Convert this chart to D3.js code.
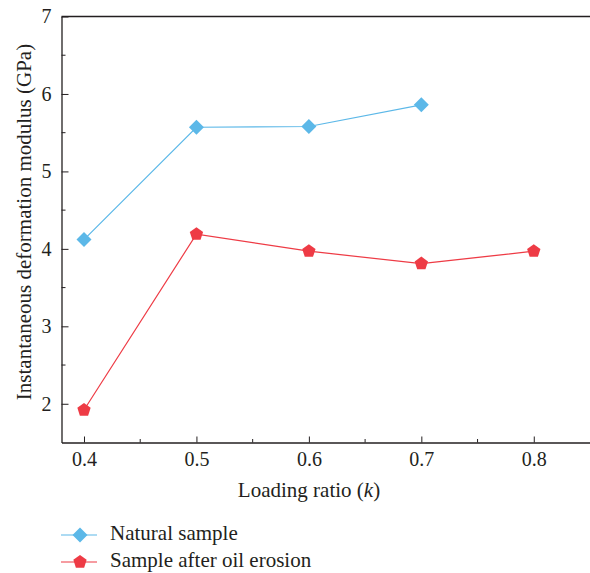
<!DOCTYPE html>
<html>
<head>
<meta charset="utf-8">
<script src="https://cdn.jsdelivr.net/npm/d3@7"></script>
<style>
  body { margin: 0; background: #fff; }
</style>
</head>
<body>
<div id="chart"></div>
<script>
// loading ratios and modulus values
const loadingRatio = [0.4, 0.5, 0.6, 0.7, 0.8];
const naturalSample = [4.12, 5.57, 5.58, 5.86];
const oilErosion = [1.92, 4.19, 3.97, 3.81, 3.97];
const xTicks = [0.4, 0.5, 0.6, 0.7, 0.8];
const xMinor = [0.45, 0.55, 0.65, 0.75];
const yTicks = [2, 3, 4, 5, 6, 7];
const yMinor = [2.5, 3.5, 4.5, 5.5, 6.5];

const W = 590, H = 573;
const m = {left: 61.5, top: 16.5, right: 0, bottom: 130.5};
const FONT = 'Liberation Serif';
const INK = '#231f20';
const FS = 20, FS_TITLE = 21;

const svg = d3.select('#chart').append('svg')
    .attr('width', W).attr('height', H)
    .attr('font-family', FONT);

const x = d3.scaleLinear().domain([0.38, 0.85]).range([m.left, W - m.right]);
const y = d3.scaleLinear().domain([1.5, 7]).range([H - m.bottom, m.top]);

// axes
const xAxis = svg.append('g').attr('transform', 'translate(0,' + y(1.5) + ')');
xAxis.call(d3.axisBottom(x).tickValues(xTicks).tickSizeInner(-6).tickSizeOuter(0)
    .tickFormat(d3.format('.1f')).tickPadding(9));
xAxis.selectAll('.minor').data(xMinor).enter().append('line')
    .attr('class', 'minor')
    .attr('x1', d => x(d)).attr('x2', d => x(d))
    .attr('y1', 0).attr('y2', -3.5)
    .attr('stroke', INK);

const yAxis = svg.append('g').attr('transform', 'translate(' + m.left + ',0)');
yAxis.call(d3.axisLeft(y).tickValues(yTicks).tickSizeInner(-7).tickSizeOuter(0)
    .tickFormat(d3.format('d')).tickPadding(10));
yAxis.selectAll('.minor').data(yMinor).enter().append('line')
    .attr('class', 'minor')
    .attr('y1', d => y(d)).attr('y2', d => y(d))
    .attr('x1', 0).attr('x2', 4)
    .attr('stroke', INK);

[xAxis, yAxis].forEach(a => {
    a.attr('font-family', FONT).attr('font-size', FS);
    a.select('.domain').attr('stroke', INK).attr('stroke-width', 1.3);
    a.selectAll('.tick line').attr('stroke', INK);
    a.selectAll('.tick text').attr('fill', INK);
});

// top border
svg.append('line')
    .attr('x1', m.left).attr('x2', W).attr('y1', m.top).attr('y2', m.top)
    .attr('stroke', INK).attr('stroke-width', 1.3);

// titles
svg.append('text')
    .attr('x', 309).attr('y', 497)
    .attr('text-anchor', 'middle').attr('font-size', FS_TITLE).attr('fill', INK)
    .html('Loading ratio (<tspan font-style="italic">k</tspan>)');

svg.append('text')
    .attr('transform', 'translate(31,222) rotate(-90)')
    .attr('text-anchor', 'middle').attr('font-size', FS_TITLE).attr('fill', INK)
    .text('Instantaneous deformation modulus (GPa)');

// series
const series = [
    {name: 'Natural sample', values: naturalSample, color: '#5cb8e8'},
    {name: 'Sample after oil erosion', values: oilErosion, color: '#ee3b45'}
];

function pentagon(r) {
    const pts = [];
    for (let i = 0; i < 5; i++) {
        const a = -Math.PI / 2 + i * 2 * Math.PI / 5;
        pts.push([r * Math.cos(a), r * Math.sin(a)]);
    }
    return 'M' + pts.map(p => p.join(',')).join('L') + 'Z';
}
function diamond(r) {
    return 'M0,' + (-r) + 'L' + r + ',0L0,' + r + 'L' + (-r) + ',0Z';
}
const marker = k => k === 0 ? diamond(7.5) : pentagon(7);

const line = d3.line().x(d => x(d[0])).y(d => y(d[1]));

series.forEach((s, k) => {
    const pts = s.values.map((v, i) => [loadingRatio[i], v]);
    svg.append('path').datum(pts)
        .attr('d', line).attr('fill', 'none')
        .attr('stroke', s.color).attr('stroke-width', 1.2);
    svg.selectAll('.pt' + k).data(pts).enter().append('path')
        .attr('transform', d => 'translate(' + x(d[0]) + ',' + y(d[1]) + ')')
        .attr('d', marker(k))
        .attr('fill', s.color);

    // legend
    const ly = 535 + k * 27;
    svg.append('line').attr('x1', 61).attr('x2', 97).attr('y1', ly).attr('y2', ly)
        .attr('stroke', s.color).attr('stroke-width', 1.2);
    svg.append('path').attr('transform', 'translate(80,' + ly + ')')
        .attr('d', marker(k)).attr('fill', s.color);
    svg.append('text').attr('x', 110).attr('y', ly + 5)
        .attr('font-size', FS_TITLE).attr('fill', INK).text(s.name);
});
</script>
</body>
</html>
